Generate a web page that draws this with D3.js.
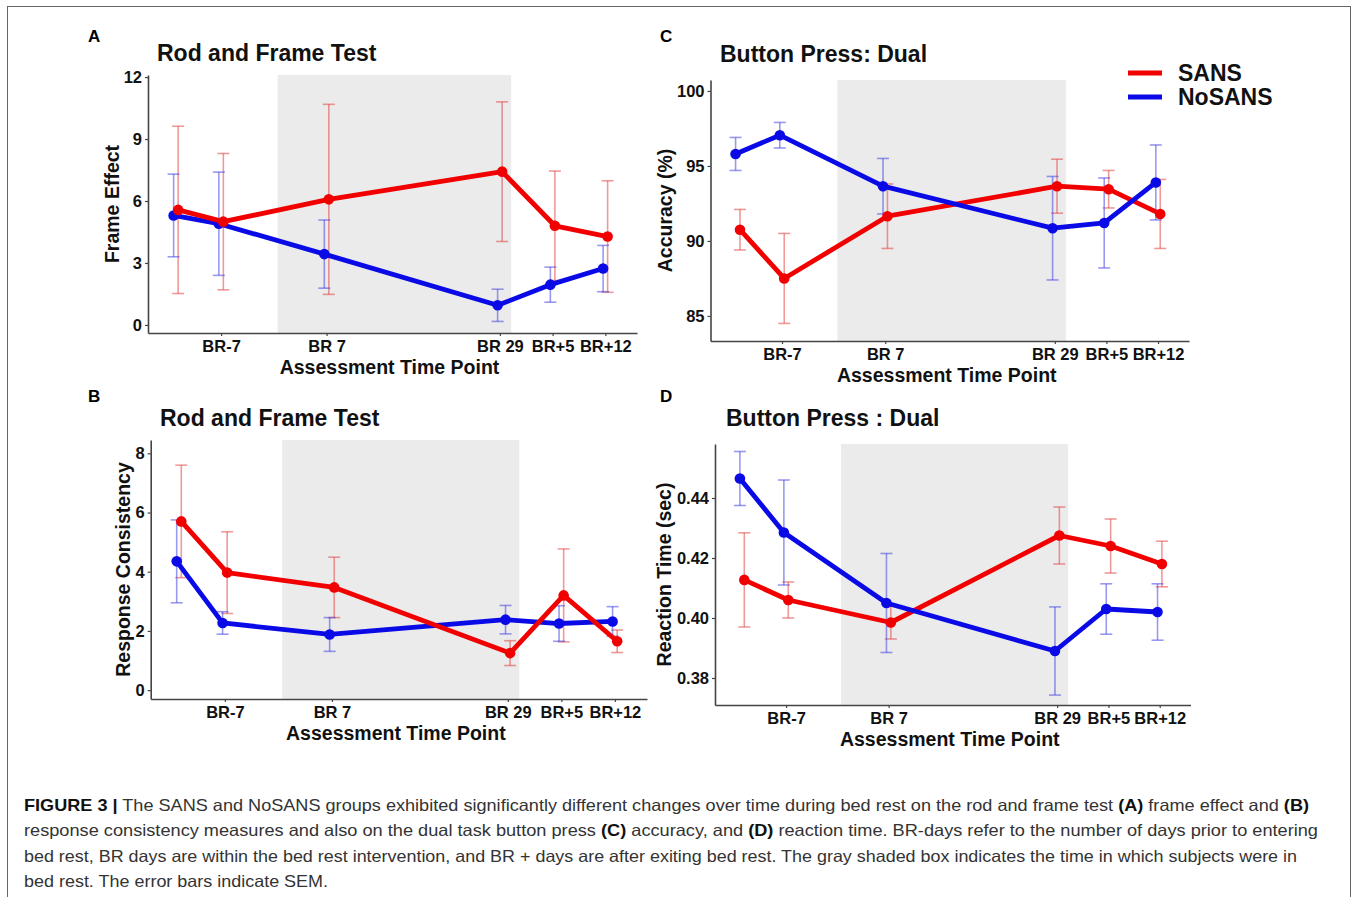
<!DOCTYPE html>
<html>
<head>
<meta charset="utf-8">
<script src="https://cdn.jsdelivr.net/npm/d3@7"></script>
<style>
  html, body { margin: 0; padding: 0; background: #fff; }
  svg { display: block; font-family: "Liberation Sans", Arial, sans-serif; }
</style>
</head>
<body>
<svg id="fig" width="1358" height="897"></svg>
<script>
// ---------- DATA ----------
const timeDays   = [-13, -7, 7, 30, 37, 44];        // assessment time points (days)
const tickDays   = [-7, 7, 30, 37, 44];
const tickLabels = ["BR-7", "BR 7", "BR 29", "BR+5", "BR+12"];
const bedRest    = [0.5, 31.5];                      // shaded bed-rest interval
const groups     = ["SANS", "NoSANS"];

// A: Rod and Frame Test – Frame Effect
const frameSansMean = [5.57, 5.0, 6.08, 7.42, 4.8, 4.28];
const frameSansSem  = [4.05, 3.3, 4.6, 3.38, 2.65, 2.7];
const frameNoMean   = [5.3, 4.9, 3.43, 0.95, 1.95, 2.73];
const frameNoSem    = [2.0, 2.5, 1.65, 0.78, 0.85, 1.12];
const frameTicks    = [0, 3, 6, 9, 12];

// B: Rod and Frame Test – Response Consistency
const consSansMean = [5.7, 3.97, 3.47, 1.25, 3.2, 1.65];
const consSansSem  = [1.9, 1.38, 1.02, 0.42, 1.57, 0.38];
const consNoMean   = [4.35, 2.27, 1.88, 2.38, 2.25, 2.32];
const consNoSem    = [1.4, 0.38, 0.57, 0.48, 0.6, 0.5];
const consTicks    = [0, 2, 4, 6, 8];

// C: Button Press: Dual – Accuracy (%)
const accSansMean = [90.75, 87.5, 91.65, 93.65, 93.45, 91.8];
const accSansSem  = [1.35, 3.0, 2.15, 1.8, 1.25, 2.3];
const accNoMean   = [95.8, 97.05, 93.65, 90.85, 91.2, 93.9];
const accNoSem    = [1.1, 0.85, 1.85, 3.45, 3.0, 2.5];
const accTicks    = [85, 90, 95, 100];

// D: Button Press : Dual – Reaction Time (sec)
const rtSansMean = [0.4127, 0.406, 0.3985, 0.4275, 0.424, 0.418];
const rtSansSem  = [0.0157, 0.006, 0.0055, 0.0095, 0.009, 0.0076];
const rtNoMean   = [0.4465, 0.4285, 0.405, 0.389, 0.403, 0.402];
const rtNoSem    = [0.009, 0.0175, 0.0165, 0.0147, 0.0084, 0.0094];
const rtTicks    = [0.38, 0.40, 0.42, 0.44];

const captionLines = [
  [["FIGURE 3 |", true], [" The SANS and NoSANS groups exhibited significantly different changes over time during bed rest on the rod and frame test ", false], ["(A)", true], [" frame effect and ", false], ["(B)", true]],
  [["response consistency measures and also on the dual task button press ", false], ["(C)", true], [" accuracy, and ", false], ["(D)", true], [" reaction time. BR-days refer to the number of days prior to entering", false]],
  [["bed rest, BR days are within the bed rest intervention, and BR + days are after exiting bed rest. The gray shaded box indicates the time in which subjects were in", false]],
  [["bed rest. The error bars indicate SEM.", false]]
];

// ---------- STYLE / LAYOUT ----------
const colors = { SANS: "#f20000", NoSANS: "#0a0ae6" };
const errColors = { SANS: "rgba(225,70,70,0.55)", NoSANS: "rgba(70,70,225,0.55)" };
const xDomain = [-16.7, 48.2];
const dodge = { SANS: 0.3, NoSANS: -0.3 };

const panels = [
  { letter: "A", lx: 88,  ly: 42,  title: "Rod and Frame Test", tx: 157, ty: 61,
    ylab: "Frame Effect", ylx: 119, left: 148, right: 637, top: 75, bottom: 333,
    yDomain: [-0.39, 12.1], ticks: frameTicks, fmt: d3.format("d"),
    sans: [frameSansMean, frameSansSem], no: [frameNoMean, frameNoSem] },
  { letter: "B", lx: 88,  ly: 402, title: "Rod and Frame Test", tx: 160, ty: 426,
    ylab: "Response Consistency", ylx: 130, left: 150.7, right: 647, top: 440, bottom: 699,
    yDomain: [-0.30, 8.45], ticks: consTicks, fmt: d3.format("d"),
    sans: [consSansMean, consSansSem], no: [consNoMean, consNoSem] },
  { letter: "C", lx: 660, ly: 42,  title: "Button Press: Dual", tx: 720, ty: 62,
    ylab: "Accuracy (%)", ylx: 672, left: 710.5, right: 1189, top: 80, bottom: 341,
    yDomain: [83.33, 100.73], ticks: accTicks, fmt: d3.format("d"),
    sans: [accSansMean, accSansSem], no: [accNoMean, accNoSem] },
  { letter: "D", lx: 660, ly: 402, title: "Button Press : Dual", tx: 726, ty: 426,
    ylab: "Reaction Time (sec)", ylx: 671, left: 715, right: 1190.5, top: 444, bottom: 705,
    yDomain: [0.371, 0.458], ticks: rtTicks, fmt: d3.format(".2f"),
    sans: [rtSansMean, rtSansSem], no: [rtNoMean, rtNoSem] }
];

const svg = d3.select("#fig");

// figure frame
svg.append("rect").attr("x", 7.5).attr("y", 6.5).attr("width", 1343).attr("height", 900)
  .attr("fill", "none").attr("stroke", "#666").attr("stroke-width", 1);

panels.forEach(p => {
  const x = d3.scaleLinear().domain(xDomain).range([p.left, p.right]);
  const y = d3.scaleLinear().domain(p.yDomain).range([p.bottom, p.top]);
  const g = svg.append("g");

  // panel letter and title
  g.append("text").attr("x", p.lx).attr("y", p.ly).text(p.letter)
    .attr("font-size", 17).attr("font-weight", "bold").attr("fill", "#000");
  g.append("text").attr("x", p.tx).attr("y", p.ty).text(p.title)
    .attr("font-size", 23).attr("font-weight", "bold").attr("fill", "#111");

  // shaded bed rest region
  g.append("rect")
    .attr("x", x(bedRest[0])).attr("y", p.top)
    .attr("width", x(bedRest[1]) - x(bedRest[0])).attr("height", p.bottom - p.top)
    .attr("fill", "#ebebeb");

  // axes
  const xAxis = d3.axisBottom(x).tickValues(tickDays).tickFormat((d, i) => tickLabels[i])
    .tickSize(3).tickSizeOuter(0).tickPadding(4);
  const gx = g.append("g").attr("transform", `translate(0,${p.bottom})`).call(xAxis);
  const yAxis = d3.axisLeft(y).tickValues(p.ticks).tickFormat(p.fmt)
    .tickSize(3).tickSizeOuter(0).tickPadding(3);
  const gy = g.append("g").attr("transform", `translate(${p.left},0)`).call(yAxis);
  [gx, gy].forEach(a => {
    a.select(".domain").attr("stroke", "#444").attr("stroke-width", 1.6);
    a.selectAll(".tick line").attr("stroke", "#444").attr("stroke-width", 1.2);
    a.selectAll(".tick text").attr("font-size", 16.5).attr("font-weight", "bold")
      .attr("fill", "#111").attr("font-family", "Liberation Sans, Arial, sans-serif");
  });

  // axis titles
  g.append("text").attr("x", (p.left + p.right) / 2 - 3).attr("y", p.bottom + 41)
    .attr("text-anchor", "middle").text("Assessment Time Point")
    .attr("font-size", 19.5).attr("font-weight", "bold").attr("fill", "#111");
  g.append("text")
    .attr("transform", `translate(${p.ylx},${(p.top + p.bottom) / 2}) rotate(-90)`)
    .attr("text-anchor", "middle").text(p.ylab)
    .attr("font-size", 19.5).attr("font-weight", "bold").attr("fill", "#111");

  // series
  const series = [
    { name: "SANS", mean: p.sans[0], sem: p.sans[1] },
    { name: "NoSANS", mean: p.no[0], sem: p.no[1] }
  ];
  // error bars first
  series.forEach(s => {
    const eg = g.append("g").attr("stroke", errColors[s.name]).attr("stroke-width", 1.6).attr("fill", "none");
    timeDays.forEach((d, i) => {
      const cx = x(d + dodge[s.name]);
      const lo = y(s.mean[i] - s.sem[i]), hi = y(s.mean[i] + s.sem[i]);
      eg.append("line").attr("x1", cx).attr("x2", cx).attr("y1", lo).attr("y2", hi);
      eg.append("line").attr("x1", cx - 6).attr("x2", cx + 6).attr("y1", lo).attr("y2", lo);
      eg.append("line").attr("x1", cx - 6).attr("x2", cx + 6).attr("y1", hi).attr("y2", hi);
    });
  });
  const order = p.letter === "C" || p.letter === "D" ? [series[0], series[1]] : [series[1], series[0]];
  order.forEach(s => {
    const pts = timeDays.map((d, i) => [x(d + dodge[s.name]), y(s.mean[i])]);
    g.append("path").attr("d", d3.line()(pts)).attr("fill", "none")
      .attr("stroke", colors[s.name]).attr("stroke-width", 4.8)
      .attr("stroke-linejoin", "round").attr("stroke-linecap", "round");
    g.append("g").selectAll("circle").data(pts).join("circle")
      .attr("cx", d => d[0]).attr("cy", d => d[1]).attr("r", 5.3)
      .attr("fill", colors[s.name]);
  });
});

// legend (panel C)
const legend = svg.append("g");
groups.forEach((name, i) => {
  legend.append("line").attr("x1", 1128).attr("x2", 1162)
    .attr("y1", 73 + i * 24).attr("y2", 73 + i * 24)
    .attr("stroke", colors[name]).attr("stroke-width", 5);
  legend.append("text").attr("x", 1178).attr("y", 81 + i * 24).text(name)
    .attr("font-size", 23).attr("font-weight", "bold").attr("fill", "#111");
});

// caption
const capWidths = [1285, 1294, 1273, 304];
const cap = svg.append("g");
captionLines.forEach((line, i) => {
  const t = cap.append("text").attr("x", 24).attr("y", 811 + i * 25.3)
    .attr("font-size", 16.5).attr("fill", "#333")
    .attr("textLength", capWidths[i]).attr("lengthAdjust", "spacingAndGlyphs");
  line.forEach(([s, b]) => {
    t.append("tspan").text(s).attr("font-weight", b ? "bold" : "normal")
      .attr("fill", b ? "#111" : "#333");
  });
});
</script>
</body>
</html>
